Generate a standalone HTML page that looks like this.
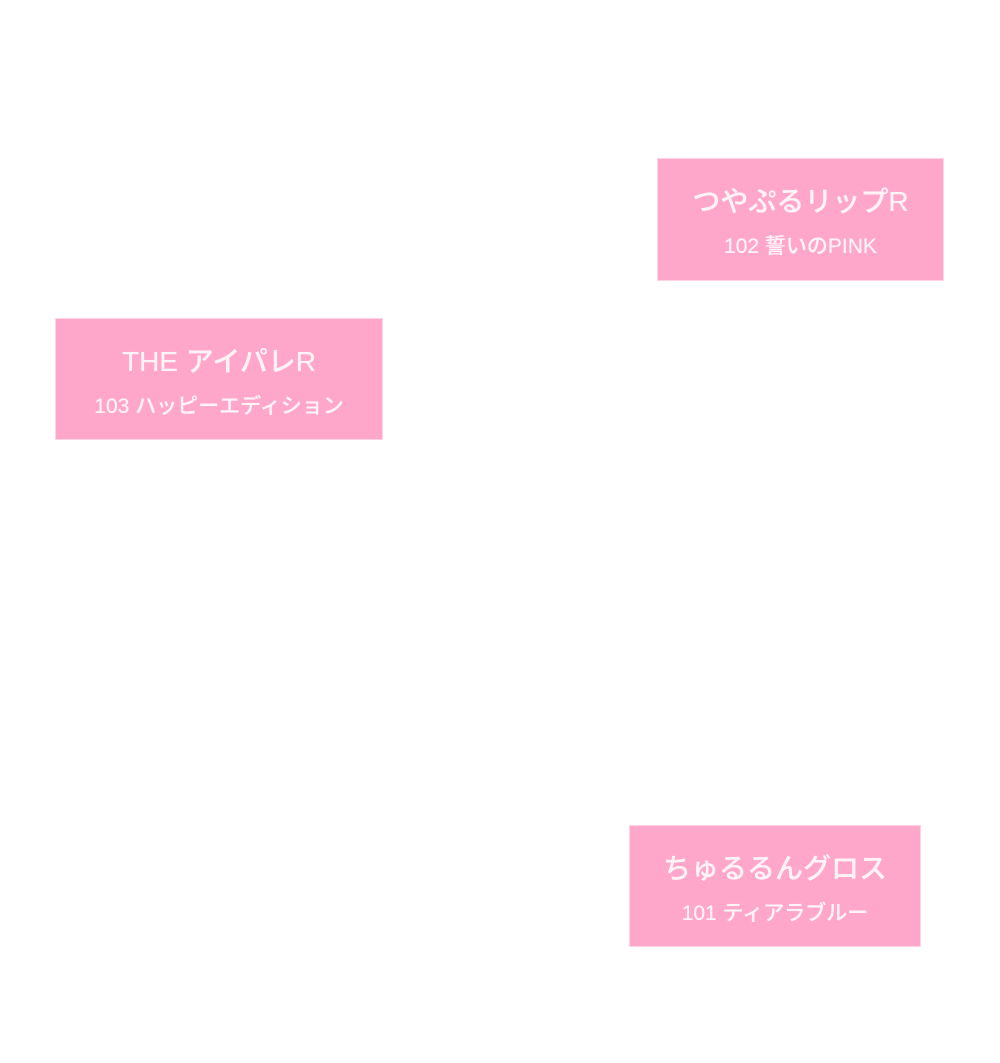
<!DOCTYPE html>
<html><head><meta charset="utf-8"><style>
body{margin:0;width:1000px;height:1063px;background:#fff;position:relative;overflow:hidden;font-family:"Liberation Sans","Noto Sans CJK JP",sans-serif}
.b{position:absolute;background:#ffa7ca;color:#fff3f7;text-align:center;box-sizing:border-box;border:1px solid #ffd3e4;font-weight:500;text-shadow:0 0 0.5px #fff3f7}
.t{font-size:28px;line-height:34px;margin-top:26px}
.s{font-size:21px;line-height:26px;margin-top:15px}
</style></head><body>
<div class="b" style="left:657px;top:158px;width:287px;height:123px"><div class="t">つやぷるリップR</div><div class="s">102 誓いのPINK</div></div>
<div class="b" style="left:55px;top:318px;width:328px;height:122px"><div class="t">THE アイパレR</div><div class="s">103 ハッピーエディション</div></div>
<div class="b" style="left:629px;top:825px;width:292px;height:122px"><div class="t">ちゅるるんグロス</div><div class="s">101 ティアラブルー</div></div>
</body></html>
